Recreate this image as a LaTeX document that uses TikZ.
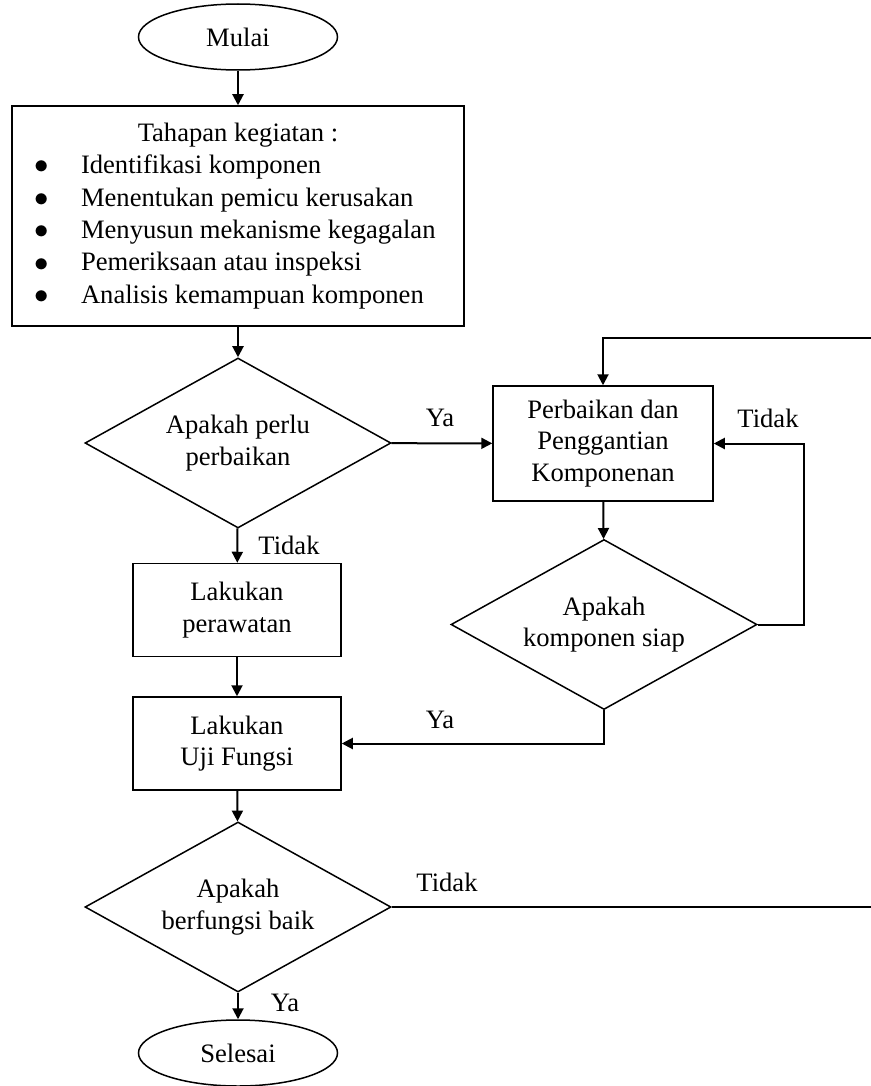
\documentclass[tikz,border=0pt]{standalone}
\usepackage{fontspec}
\setmainfont{Liberation Serif}
\usetikzlibrary{shapes.geometric,arrows.meta}

\begin{document}
\begin{tikzpicture}[x=0.5pt,y=-0.5pt,
    font=\fontsize{13.3}{15.8}\selectfont,
    proses/.style={draw,line width=0.75pt,align=center,minimum width=104pt,minimum height=46.5pt},
    keputusan/.style={draw,diamond,aspect=1.8,inner sep=1pt,line width=0.75pt,align=center,minimum width=153pt,minimum height=85pt},
    terminal/.style={draw,ellipse,line width=0.75pt,minimum width=99.5pt,minimum height=33pt},
    alur/.style={line width=1pt,-{Triangle[length=5.5pt,width=5.5pt]}}]
  \useasboundingbox (0,0) rectangle (871,1086);
  \clip (0,0) rectangle (871,1086);
  % kolom kiri
  \node[terminal] (mulai) at (238,37) {Mulai};
  \node[proses,minimum width=226pt,minimum height=110pt,inner xsep=11pt,align=left,
    font=\fontsize{13.3}{16.2}\selectfont] (tahapan) at (238,216) {%
    \makebox[204pt]{Tahapan kegiatan :}\\
    \makebox[204pt][l]{\makebox[23.5pt][l]{$\bullet$}Identifikasi komponen}\\
    \makebox[204pt][l]{\makebox[23.5pt][l]{$\bullet$}Menentukan pemicu kerusakan}\\
    \makebox[204pt][l]{\makebox[23.5pt][l]{$\bullet$}Menyusun mekanisme kegagalan}\\
    \makebox[204pt][l]{\makebox[23.5pt][l]{$\bullet$}Pemeriksaan atau inspeksi}\\
    \makebox[204pt][l]{\makebox[23.5pt][l]{$\bullet$}Analisis kemampuan komponen}};
  \node[keputusan] (perlu) at (238,443) {Apakah perlu\\perbaikan};
  \node[proses] (perawatan) at (237,610) {Lakukan\\perawatan};
  \node[proses] (uji) at (237,743.5) {Lakukan\\Uji Fungsi};
  \node[keputusan] (baik) at (238,907) {Apakah\\berfungsi baik};
  \node[terminal] (selesai) at (238,1053) {Selesai};
  % kolom kanan
  \node[proses,minimum width=110pt,minimum height=57.5pt] (perbaikan) at (603,443.5) {Perbaikan dan\\Penggantian\\Komponenan};
  \node[keputusan] (siap) at (604,624.5) {Apakah\\komponen siap};
  \coordinate (tepi) at (900,338);
  % label
  \node (ya1) at (440,418) {Ya};
  \node (tidak1) at (289,545) {Tidak};
  \node (tidak2) at (768,418) {Tidak};
  \node (ya2) at (440,720) {Ya};
  \node (tidak3) at (447,882) {Tidak};
  \node (ya3) at (285,1003) {Ya};
  \begin{scope}[alur]
    \draw (mulai) to (tahapan);
    \draw (tahapan) to (perlu);
    \draw (perlu) to (perawatan);
    \draw (perawatan) to (uji);
    \draw (uji) to (baik);
    \draw (baik) to (selesai);
    \draw (perlu) to (perbaikan);
    \draw (perbaikan) to (siap);
    \draw (siap.east) -- ++(46,0) |- (perbaikan.east);
    \draw (siap.south) |- (uji.east);
    \draw (baik.east) -| (tepi) -| (perbaikan.north);
  \end{scope}
\end{tikzpicture}
\end{document}
